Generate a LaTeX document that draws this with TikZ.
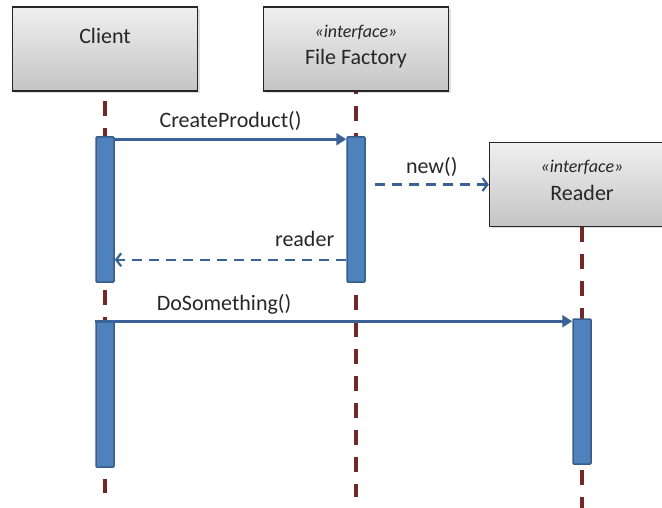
\documentclass[tikz,border=0pt]{standalone}
\usepackage{fontspec}
\setmainfont{Carlito}
\usetikzlibrary{arrows.meta,shadows}

\definecolor{barfill}{RGB}{79,129,189}
\definecolor{barline}{RGB}{56,93,138}
\definecolor{msgblue}{RGB}{58,98,150}
\definecolor{lifered}{RGB}{114,40,40}

\begin{document}
\begin{tikzpicture}[x=1pt, y=-1pt,
	every node/.style={font=\fontsize{22}{26}\selectfont, text=black!85},
	objbox/.style={draw=black!85, line width=1.3pt, top color=white!94!black,
		bottom color=white!77!black, minimum width=185pt, minimum height=84pt,
		drop shadow={shadow xshift=2pt, shadow yshift=-2pt, opacity=0.25}},
	stereo/.style={font=\fontsize{18}{22}\selectfont\itshape},
	lifeline/.style={lifered, line width=3.5pt, dash pattern=on 15pt off 12pt},
	bar/.style={draw=barline, fill=barfill, line width=1.5pt, minimum width=18pt,
		minimum height=145pt, inner sep=0pt, rounded corners=1pt},
	call/.style={msgblue, line width=2.8pt, -{Triangle[length=10pt, width=12pt]}},
	ret/.style={msgblue, line width=2.2pt, dash pattern=on 10pt off 7pt,
		-{Straight Barb[length=5pt, width=13pt]}},
	msg/.style={inner sep=2pt, text height=16pt, text depth=5pt}
]
\clip (0,0) rectangle (662,508);

% OBJECTS
\foreach \n/\x/\y/\e/\p in{client/105/49/493/18, factory/356/49/497/13, reader/582/184.5/512/0}{
	\node[objbox](\n) at(\x,\y) {};
	\coordinate(\n-end) at(\x,\e);
	% LIFELINES
	\draw[lifeline, dash phase=\p pt] (\n.south) -- (\n-end);
}

\node(clientname) at([yshift=-30pt]client.north) {Client};
\node[stereo](factorystereo) at([yshift=-26pt]factory.north) {«interface»};
\node(factoryname) at([yshift=-52pt]factory.north) {File Factory};
\node[stereo](readerstereo) at([yshift=-26pt]reader.north) {«interface»};
\node(readername) at([yshift=-51pt]reader.north) {Reader};

% ACTIVATIONS
\node[bar](cbar1) at(105,209.5) {};
\node[bar](fbar) at(356,209.5) {};
\node[bar](cbar2) at(105,394.5) {};
\node[bar](rbar) at(582,391.5) {};

% MESSAGES
\draw[call] ([yshift=-3pt]cbar1.north east) --
	node[msg, above=3pt](createlbl) {CreateProduct()} ([yshift=-3pt]fbar.north west);

\path (fbar.east |- reader.west) ++(9,0) coordinate(newfrom);
\draw[ret] (newfrom) -- node[msg, above=3pt](newlbl) {new()} (reader.west);

\draw[ret] ([yshift=23pt]fbar.south west) --
	node[msg, pos=0, anchor=south east, xshift=-9pt, yshift=5pt](readerlbl) {reader}
	([yshift=23pt]cbar1.south east);

\draw[call] (cbar2.north west) --
	node[msg, above=2pt, pos=0.27](dolbl) {DoSomething()} ([yshift=-3pt]rbar.north west);

\end{tikzpicture}
\end{document}
